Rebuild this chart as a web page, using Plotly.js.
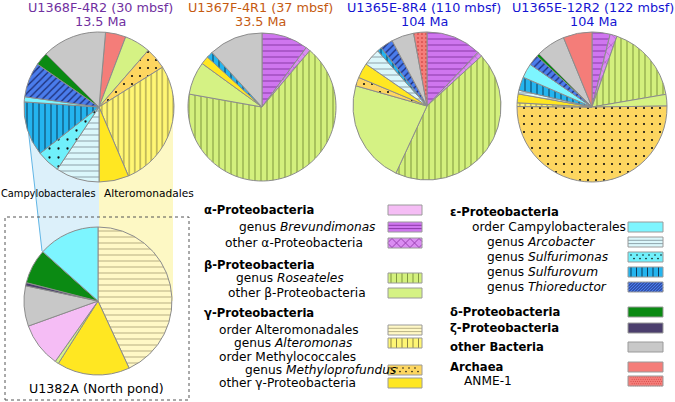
<!DOCTYPE html>
<html><head><meta charset="utf-8">
<script src="https://cdn.plot.ly/plotly-3.0.1.min.js"></script>
<style>html,body{margin:0;padding:0;background:#fff}#chart{width:675px;height:402px}</style>
</head><body><div id="chart"></div>
<script>
// ---------------- DATA ----------------
const pieTitles = ['U1368F-4R2 (30 mbsf)', 'U1367F-4R1 (37 mbsf)', 'U1365E-8R4 (110 mbsf)', 'U1365E-12R2 (122 mbsf)'];
const pieAges = ['13.5 Ma', '33.5 Ma', '104 Ma', '104 Ma'];
const pie5Title = 'U1382A (North pond)';

const pie1Labels = ['Archaea','other β-Proteobacteria','genus Methyloprofundus','genus Alteromonas','other γ-Proteobacteria','genus Arcobacter','genus Sulfurimonas','genus Sulfurovum','order Campylobacterales','genus Thioreductor','δ-Proteobacteria','other Bacteria'];
const pie1Values = [4.4, 5.6, 4.7, 27.5, 6.4, 9.4, 5.0, 11.7, 1.1, 7.5, 2.8, 13.9];

const pie2Labels = ['genus Brevundimonas','other α-Proteobacteria','genus Roseateles','other β-Proteobacteria','other γ-Proteobacteria','genus Sulfurovum','other Bacteria'];
const pie2Values = [10.2, 1.0, 66.6, 7.2, 1.8, 1.4, 11.8];

const pie3Labels = ['genus Brevundimonas','other α-Proteobacteria','genus Roseateles','other β-Proteobacteria','genus Methyloprofundus','other γ-Proteobacteria','genus Arcobacter','genus Sulfurovum','genus Thioreductor','other Bacteria','ANME-1'];
const pie3Values = [12.1, 1.1, 43.7, 22.5, 1.9, 3.3, 3.8, 1.0, 2.8, 4.9, 2.9];

const pie4Labels = ['genus Brevundimonas','other α-Proteobacteria','genus Roseateles','other β-Proteobacteria','genus Methyloprofundus','genus Alteromonas','other γ-Proteobacteria','genus Arcobacter','genus Sulfurovum','order Campylobacterales','genus Thioreductor','δ-Proteobacteria','other Bacteria','Archaea'];
const pie4Values = [3.9, 1.5, 16.9, 2.5, 50.3, 0.8, 1.9, 0.8, 2.9, 3.1, 2.3, 0.6, 6.3, 6.2];

const pie5Labels = ['order Alteromonadales','other γ-Proteobacteria','other β-Proteobacteria','α-Proteobacteria','other Bacteria','ζ-Proteobacteria','δ-Proteobacteria','order Campylobacterales'];
const pie5Values = [43.1, 15.9, 0.8, 9.7, 8.8, 0.7, 7.6, 13.4];

const zoomLabels = ['Campylobacterales', 'Alteromonadales'];

const legendLeftLabels = ['<b>α-Proteobacteria</b>','genus <i>Brevundimonas</i>','other α-Proteobacteria','<b>β-Proteobacteria</b>','genus <i>Roseateles</i>','other β-Proteobacteria','<b>γ-Proteobacteria</b>','order Alteromonadales','genus <i>Alteromonas</i>','order Methylococcales','genus <i>Methyloprofundus</i>','other γ-Proteobacteria'];
const legendLeftKeys = ['α-Proteobacteria','genus Brevundimonas','other α-Proteobacteria',null,'genus Roseateles','other β-Proteobacteria',null,'order Alteromonadales','genus Alteromonas',null,'genus Methyloprofundus','other γ-Proteobacteria'];
const legendRightLabels = ['<b>ε-Proteobacteria</b>','order Campylobacterales','genus <i>Arcobacter</i>','genus <i>Sulfurimonas</i>','genus <i>Sulfurovum</i>','genus <i>Thioreductor</i>','<b>δ-Proteobacteria</b>','<b>ζ-Proteobacteria</b>','<b>other Bacteria</b>','<b>Archaea</b>','ANME-1'];
const legendRightKeys = [null,'order Campylobacterales','genus Arcobacter','genus Sulfurimonas','genus Sulfurovum','genus Thioreductor','δ-Proteobacteria','ζ-Proteobacteria','other Bacteria','Archaea','ANME-1'];

// ---------------- STYLE ----------------
const W = 675, H = 402;
const FONT = 'DejaVu Sans, Verdana, sans-serif';
const STYLE = {
  'α-Proteobacteria':        {color:'#f5bdf5', shape:''},
  'genus Brevundimonas':     {color:'#cf76ef', shape:'-', fg:'#8b3aa8', size:6, sol:0.17},
  'other α-Proteobacteria':  {color:'#da8cf2', shape:'x', fg:'#9a42b2', size:8, sol:0.12},
  'genus Roseateles':        {color:'#d3f07d', shape:'|', fg:'#7f973e', size:6, sol:0.17},
  'other β-Proteobacteria':  {color:'#d5f284', shape:''},
  'order Alteromonadales':   {color:'#fff8c6', shape:'-', fg:'#b9b184', size:6, sol:0.17},
  'genus Alteromonas':       {color:'#fff674', shape:'|', fg:'#8e8644', size:5.5, sol:0.18},
  'genus Methyloprofundus':  {color:'#fdd660', shape:'.', fg:'#111111', size:8, sol:0.055},
  'other γ-Proteobacteria':  {color:'#ffe722', shape:''},
  'order Campylobacterales': {color:'#7df5ff', shape:''},
  'genus Arcobacter':        {color:'#dbf7fb', shape:'-', fg:'#8ea4ac', size:6, sol:0.17},
  'genus Sulfurimonas':      {color:'#70f0fb', shape:'.', fg:'#111111', size:9, sol:0.05},
  'genus Sulfurovum':        {color:'#24b4ee', shape:'|', fg:'#0c3c5c', size:6, sol:0.17},
  'genus Thioreductor':      {color:'#4a7cec', shape:'/', fg:'#1c2c72', size:5, sol:0.25},
  'δ-Proteobacteria':        {color:'#0b8a13', shape:''},
  'ζ-Proteobacteria':        {color:'#4b3e6d', shape:''},
  'other Bacteria':          {color:'#c8c8c8', shape:''},
  'Archaea':                 {color:'#f47d79', shape:''},
  'ANME-1':                  {color:'#f47d79', shape:'.', fg:'#c22a2a', size:4, sol:0.12}
};

function dom(cx, cy, r) {
  return {x:[(cx-r)/W, (cx+r)/W], y:[1-(cy+r)/H, 1-(cy-r)/H]};
}
function pieTrace(labels, values, cx, cy, r, rot) {
  const st = labels.map(l => STYLE[l]);
  return {
    type:'pie', labels:labels, values:values, sort:false, direction:'clockwise', rotation:rot,
    domain:dom(cx, cy, r), textinfo:'none', hoverinfo:'skip', showlegend:false, automargin:false,
    marker:{
      colors: st.map(s => s.color),
      line:{color:'#8c8c8c', width:1},
      pattern:{
        shape: st.map(s => s.shape),
        fillmode:'overlay',
        bgcolor: st.map(s => s.color),
        fgcolor: st.map(s => s.fg || '#000'),
        fgopacity: 1,
        size: st.map(s => s.size || 8),
        solidity: st.map(s => s.sol || 0.2)
      }
    }
  };
}

const traces = [
  pieTrace(pie1Labels, pie1Values, 99, 107, 75, 5),
  pieTrace(pie2Labels, pie2Values, 262, 107, 74, 0),
  pieTrace(pie3Labels, pie3Values, 427, 106, 74, 0),
  pieTrace(pie4Labels, pie4Values, 592, 107, 75, 0),
  pieTrace(pie5Labels, pie5Values, 98, 301, 74, 0)
];

// ---------------- SHAPES ----------------
const px = x => x / W, py = y => 1 - y / H;
const shapes = [];
shapes.push({type:'path', xref:'paper', yref:'paper', layer:'below',
  path:`M${px(26)},${py(110)} L${px(99)},${py(107)} L${px(99)},${py(301)} L${px(42)},${py(251)} Z`,
  fillcolor:'#dcf0fa', line:{width:0}});
shapes.push({type:'line', xref:'paper', yref:'paper', layer:'below',
  x0:px(26), y0:py(110), x1:px(42), y1:py(251), line:{color:'#62b6e6', width:1}});
shapes.push({type:'rect', xref:'paper', yref:'paper', layer:'below',
  x0:px(99), x1:px(173), y0:py(301), y1:py(107), fillcolor:'#fdf8c4', line:{width:0}});
shapes.push({type:'rect', xref:'paper', yref:'paper', layer:'below',
  x0:px(5), x1:px(189), y0:py(400), y1:py(217), fillcolor:'rgba(0,0,0,0)',
  line:{color:'#555555', width:1, dash:'3px,3px'}});

function seg(x0,y0,x1,y1,color,w){
  shapes.push({type:'line', xref:'paper', yref:'paper', x0:px(x0), y0:py(y0), x1:px(x1), y1:py(y1), line:{color:color, width:w||1}});
}
function diag(x0,y0,x1,y1,step,color,dir){
  if(dir === 1){
    for(let c = x0 + y0 + step/2; c < x1 + y1; c += step){
      const xa = Math.max(x0, c - y1), xb = Math.min(x1, c - y0);
      if(xb > xa) seg(xa, c - xa, xb, c - xb, color, 1);
    }
  } else {
    for(let c = x0 - y1 + step/2; c < x1 - y0; c += step){
      const xa = Math.max(x0, c + y0), xb = Math.min(x1, c + y1);
      if(xb > xa) seg(xa, xa - c, xb, xb - c, color, 1);
    }
  }
}
function swatch(x0, yc, w, h, key){
  const s = STYLE[key];
  const y0 = yc - h/2, y1 = yc + h/2, x1 = x0 + w;
  shapes.push({type:'rect', xref:'paper', yref:'paper', x0:px(x0), x1:px(x1), y0:py(y1), y1:py(y0),
    fillcolor:s.color, line:{width:0}});
  const fg = s.fg;
  if(s.shape === '|'){ for(let x = x0 + 3; x < x1 - 1; x += 5.5) seg(x, y0, x, y1, fg, 1); }
  else if(s.shape === '-'){ for(let y = y0 + 3.3; y < y1 - 1; y += 3.3) seg(x0, y, x1, y, fg, 1); }
  else if(s.shape === '/'){ diag(x0, y0, x1, y1, 3, fg, 1); }
  else if(s.shape === 'x'){ diag(x0, y0, x1, y1, 9, fg, 1); diag(x0, y0, x1, y1, 9, fg, -1); }
  else if(s.shape === '.'){
    const anme = key === 'ANME-1';
    const st = anme ? 2.2 : 6;
    const r = anme ? 0.45 : 0.8;
    let row = 0;
    for(let y = y0 + st/2; y < y1; y += anme ? st : st*0.6, row++){
      for(let x = x0 + 3 + (row % 2) * st/2; x < x1 - 1; x += st){
        shapes.push({type:'circle', xref:'paper', yref:'paper', x0:px(x-r), x1:px(x+r), y0:py(y+r), y1:py(y-r),
          fillcolor:fg, line:{width:0}});
      }
    }
  }
  shapes.push({type:'rect', xref:'paper', yref:'paper', x0:px(x0), x1:px(x1), y0:py(y1), y1:py(y0),
    fillcolor:'rgba(0,0,0,0)', line:{color:'#9a9a9a', width:1}});
}

// ---------------- ANNOTATIONS ----------------
const annotations = [];
function txt(x, y, text, size, color, anchor){
  annotations.push({xref:'paper', yref:'paper', x:px(x), y:py(y), text:text, showarrow:false,
    xanchor:anchor||'left', yanchor:'middle', font:{family:FONT, size:size, color:color||'#000'}});
}
const titleColors = ['#7030a0', '#c55a11', '#1414d2', '#1414d2'];
const titleX = [100, 260, 424, 593];
pieTitles.forEach((t, i) => { txt(titleX[i], 7.5, t, 12.8, titleColors[i], 'center'); txt(titleX[i], 21, pieAges[i], 12.8, titleColors[i], 'center'); });
txt(96, 388, pie5Title, 12.6, '#000', 'center');
txt(-1, 193, zoomLabels[0], 9.8, '#000', 'left');
txt(102, 193, zoomLabels[1], 10.6, '#000', 'left');

const isBold = t => t.indexOf('<b>') === 0;
const leftX = [202, 237, 223, 202, 234, 226, 202, 217, 232, 217, 243, 217];
const leftY = [210, 227, 243, 265, 278, 293, 313, 330, 343, 357, 370, 383];
legendLeftLabels.forEach((t, i) => {
  txt(leftX[i], leftY[i], t, isBold(t) ? 11.6 : 12.2, '#000', 'left');
  if(legendLeftKeys[i]) swatch(388, leftY[i], 34, 10, legendLeftKeys[i]);
});
const rightX = [448, 470, 485, 485, 485, 485, 448, 448, 448, 448, 462];
const rightY = [212, 227, 242, 257, 272, 287, 312, 328, 347, 367, 381];
legendRightLabels.forEach((t, i) => {
  txt(rightX[i], rightY[i], t, isBold(t) ? 11.6 : 12.2, '#000', 'left');
  if(legendRightKeys[i]) swatch(628, rightY[i], 35, 10, legendRightKeys[i]);
});

const layout = {width:W, height:H, margin:{l:0, r:0, t:0, b:0}, paper_bgcolor:'#ffffff', plot_bgcolor:'#ffffff',
  showlegend:false, shapes:shapes, annotations:annotations, font:{family:FONT}};
Plotly.newPlot('chart', traces, layout, {staticPlot:true, displayModeBar:false});
</script></body></html>
